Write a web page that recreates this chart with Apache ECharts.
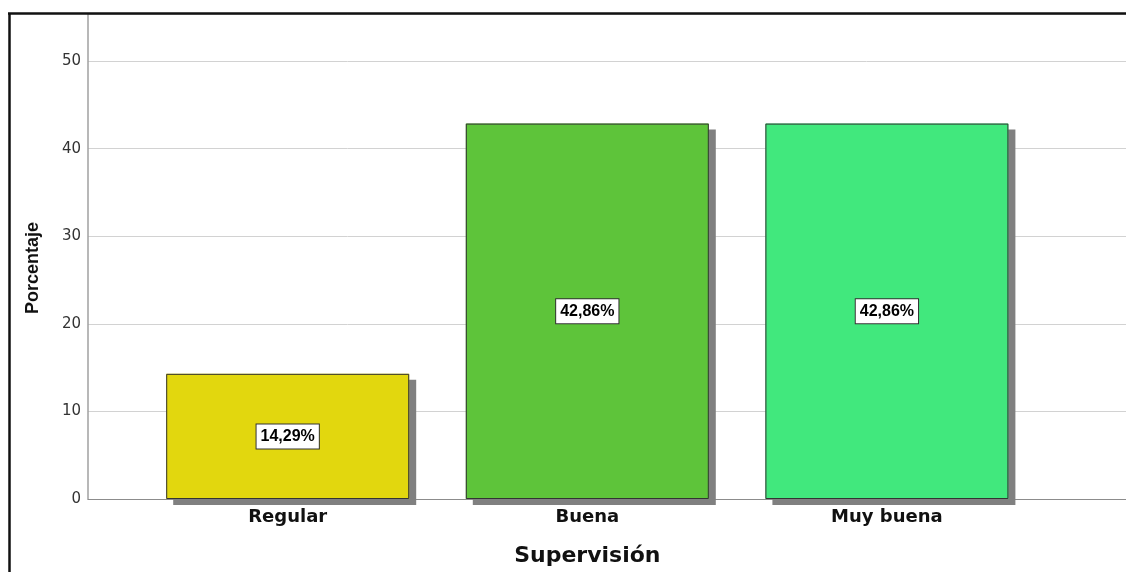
<!DOCTYPE html>
<html>
<head>
<meta charset="utf-8">
<title>Supervisión</title>
<script src="https://cdn.jsdelivr.net/npm/echarts@6/dist/echarts.min.js"></script>
<style>
  html, body { margin: 0; padding: 0; background: #ffffff; }
  #chart { width: 1126px; height: 572px; }
</style>
</head>
<body>
<div id="chart"></div>
<script>
// Categories and percentages
const categories = ['Regular', 'Buena', 'Muy buena'];
const percentages = [14.29, 42.86, 42.86];
const barColors = ['#E2D70E', '#5EC43A', '#41E87D'];
const yTicks = [0, 10, 20, 30, 40, 50];

const yMax = 55.37;
const axisFont = 'DejaVu Sans, Verdana, sans-serif';

const chart = echarts.init(document.getElementById('chart'), null, { renderer: 'canvas' });

const option = {
  backgroundColor: '#ffffff',
  animation: false,
  grid: [
    // frame grid: y axis, gridlines and baseline
    { left: 88, right: 0, top: 14, bottom: 73 },
    // bar grid: category band
    { left: 137.9, width: 898.8, top: 14, bottom: 73 }
  ],
  xAxis: [
    {
      gridIndex: 0, type: 'value', min: 0, max: 1,
      axisLine: { show: true, lineStyle: { color: '#8c8c8c', width: 1 } },
      axisTick: { show: false }, axisLabel: { show: false }, splitLine: { show: false }
    },
    {
      gridIndex: 1, type: 'category', data: categories,
      axisLine: { show: false }, axisTick: { show: false },
      axisLabel: {
        margin: 9, color: '#111111', fontFamily: axisFont,
        fontWeight: 'bold', fontSize: 18
      },
      name: 'Supervisión', nameLocation: 'middle', nameGap: 46,
      nameTextStyle: { color: '#111111', fontFamily: axisFont, fontWeight: 'bold', fontSize: 22 }
    }
  ],
  yAxis: [
    {
      gridIndex: 0, type: 'value', min: 0, max: yMax, interval: 10,
      axisLine: { show: true, lineStyle: { color: '#a0a0a0', width: 1.5 } },
      axisTick: { show: false },
      axisLabel: {
        margin: 7, color: '#333333', fontFamily: axisFont, fontSize: 15,
        padding: [4, 0, 0, 0],
        showMaxLabel: false,
        formatter: function (v) { return yTicks.indexOf(v) >= 0 ? String(v) : ''; }
      },
      splitLine: { show: true, lineStyle: { color: '#d2d2d2', width: 1 } }
    },
    { gridIndex: 1, type: 'value', min: 0, max: yMax, show: false }
  ],
  series: [
    // filled bars casting a flat drop shadow
    {
      type: 'bar',
      xAxisIndex: 1, yAxisIndex: 1,
      barWidth: 243,
      z: 2,
      data: percentages.map(function (v, i) {
        return { value: v, itemStyle: { color: barColors[i] } };
      }),
      itemStyle: {
        borderWidth: 0,
        shadowColor: '#808080', shadowBlur: 0, shadowOffsetX: 7, shadowOffsetY: 6
      }
    },
    // outlines and value labels on top of the fills
    {
      type: 'bar',
      xAxisIndex: 1, yAxisIndex: 1,
      barWidth: 243,
      barGap: '-100%',
      z: 3,
      data: percentages,
      itemStyle: { color: 'rgba(0,0,0,0)', borderColor: '#333333', borderWidth: 1 },
      label: {
        show: true, position: 'inside',
        formatter: function (p) { return p.value.toFixed(2).replace('.', ',') + '%'; },
        color: '#000000', fontFamily: 'Liberation Sans, Arial, sans-serif',
        fontWeight: 'bold', fontSize: 16,
        backgroundColor: '#ffffff', borderColor: '#333333', borderWidth: 1,
        padding: [4, 4, 4, 4]
      }
    }
  ],
  graphic: [
    // outer frame (left and top edges)
    { type: 'line', z: 100, shape: { x1: 9.5, y1: 13.5, x2: 9.5, y2: 572 }, style: { stroke: '#111111', lineWidth: 2.5 } },
    { type: 'line', z: 100, shape: { x1: 8, y1: 13.5, x2: 1126, y2: 13.5 }, style: { stroke: '#111111', lineWidth: 2.5 } },
    // y axis title
    {
      type: 'text', z: 100, x: 33, y: 268, rotation: Math.PI / 2,
      style: {
        text: 'Porcentaje', fill: '#111111',
        font: 'bold 18px "Liberation Sans", Arial, sans-serif',
        align: 'center', verticalAlign: 'middle'
      }
    }
  ]
};

chart.setOption(option);
</script>
</body>
</html>
